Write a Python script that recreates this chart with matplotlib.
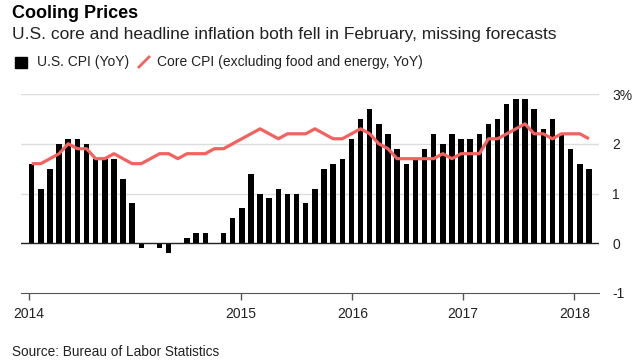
import numpy as np
import matplotlib.pyplot as plt
from matplotlib.patches import Rectangle
from matplotlib.lines import Line2D

# Year-over-year CPI, monthly
cpi = [1.6, 1.1, 1.5, 2.0, 2.1, 2.1, 2.0, 1.7, 1.7, 1.7, 1.3, 0.8,
       -0.1, 0.0, -0.1, -0.2, 0.0, 0.1, 0.2, 0.2, 0.0, 0.2, 0.5, 0.7,
       1.4, 1.0, 0.9, 1.1, 1.0, 1.0, 0.8, 1.1, 1.5, 1.6, 1.7, 2.1,
       2.5, 2.7, 2.4, 2.2, 1.9, 1.6, 1.7, 1.9, 2.2, 2.0, 2.2, 2.1,
       2.1, 2.2, 2.4, 2.5, 2.8, 2.9, 2.9, 2.7, 2.3, 2.5, 2.2, 1.9,
       1.6, 1.5]

# Core CPI (excluding food and energy), monthly
core = [1.6, 1.6, 1.7, 1.8, 2.0, 1.9, 1.9, 1.7, 1.7, 1.8, 1.7, 1.6,
        1.6, 1.7, 1.8, 1.8, 1.7, 1.8, 1.8, 1.8, 1.9, 1.9, 2.0, 2.1,
        2.2, 2.3, 2.2, 2.1, 2.2, 2.2, 2.2, 2.3, 2.2, 2.1, 2.1, 2.2,
        2.3, 2.2, 2.0, 1.9, 1.7, 1.7, 1.7, 1.7, 1.7, 1.8, 1.7, 1.8,
        1.8, 1.8, 2.1, 2.1, 2.2, 2.3, 2.4, 2.2, 2.2, 2.1, 2.2, 2.2,
        2.2, 2.1]

year_labels = ['2014', '2015', '2016', '2017', '2018']
year_ticks = [-0.3, 22.9, 35.1, 47.2, 59.4]
y_ticks = [-1, 0, 1, 2, 3]
y_labels = ['-1', '0', '1', '2', '3%']

red = '#f4625f'

plt.rcParams['font.family'] = ['Liberation Sans', 'DejaVu Sans']

W, H = 637, 361
fig = plt.figure(figsize=(W / 100, H / 100), dpi=100)
ax = fig.add_axes([21 / W, 68 / H, 578 / W, 199 / H])

x = np.arange(len(cpi))
for yv in [1, 2, 3]:
    ax.axhline(yv, color='#dddddd', lw=1, zorder=1)
ax.bar(x, cpi, width=0.6, color='black', zorder=2)
ax.axhline(0, color='#222222', lw=1, zorder=2.5)
ax.plot(x, core, color=red, lw=2.3, zorder=3, solid_capstyle='butt')

ax.set_xlim(-1.17, 62.1)
ax.set_ylim(-1, 3)
for s in ['top', 'left', 'right']:
    ax.spines[s].set_visible(False)
ax.spines['bottom'].set_color('#555555')

ax.yaxis.tick_right()
ax.set_yticks(y_ticks, y_labels)
ax.tick_params(axis='y', length=0, pad=9.5, labelsize=10, labelcolor='#222222')
ax.set_xticks(year_ticks, year_labels)
ax.tick_params(axis='x', length=5, width=1, color='#555555', pad=5,
               labelsize=10, labelcolor='#222222')

# titles
fig.text(12 / W, 1 - 13 / H, 'Cooling Prices', fontsize=13, fontweight='bold',
         va='center', color='black')
fig.text(12 / W, 1 - 35 / H,
         'U.S. core and headline inflation both fell in February, missing forecasts',
         fontsize=12.5, va='center', color='#222222')

# legend
fig.patches.append(Rectangle((15 / W, 1 - 68 / H), 12 / W, 11 / H,
                             transform=fig.transFigure, color='black'))
fig.text(37 / W, 1 - 62 / H, 'U.S. CPI (YoY)', fontsize=10, va='center',
         color='#222222')
fig.lines.append(Line2D([139 / W, 149 / W], [1 - 67 / H, 1 - 57 / H],
                        transform=fig.transFigure, color=red, lw=2))
fig.text(157 / W, 1 - 62 / H, 'Core CPI (excluding food and energy, YoY)',
         fontsize=10, va='center', color='#222222')

fig.text(12 / W, 1 - 352 / H, 'Source: Bureau of Labor Statistics',
         fontsize=9.8, va='center', color='#222222')

fig.savefig('out.png', dpi=100)
